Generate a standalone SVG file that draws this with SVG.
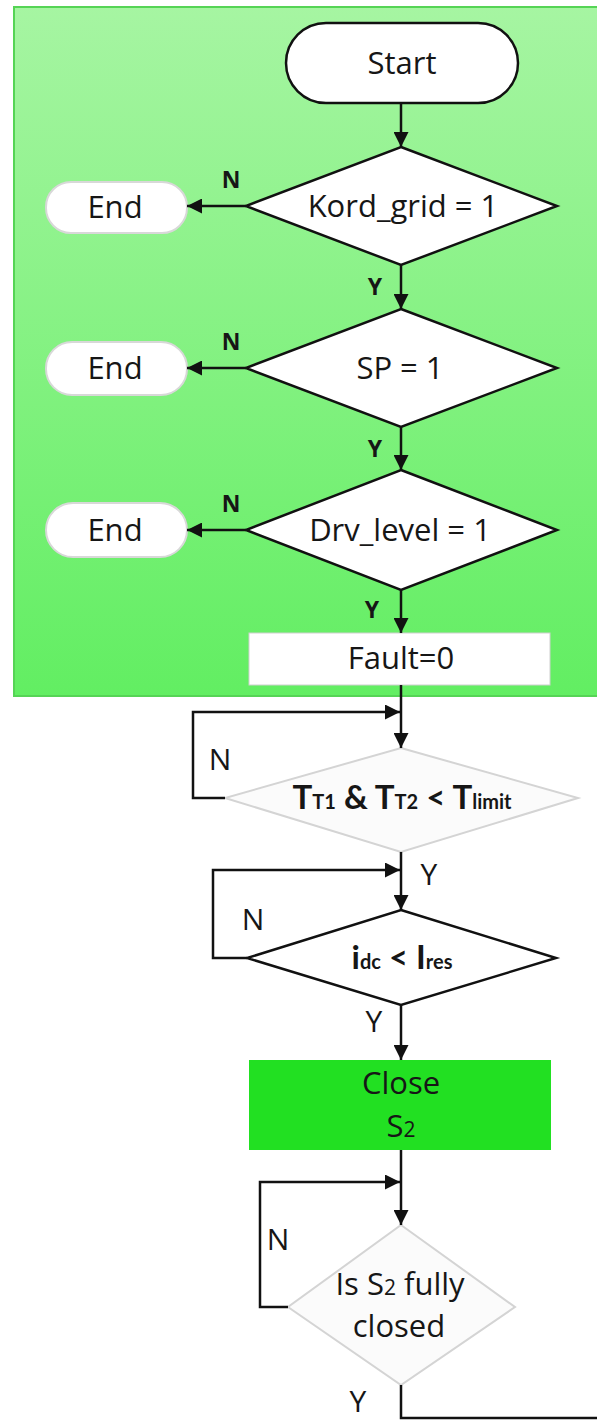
<svg xmlns="http://www.w3.org/2000/svg" width="597" height="1420" viewBox="0 0 597 1420">
<defs>
<linearGradient id="panelGrad" x1="0" y1="0" x2="0" y2="1">
<stop offset="0" stop-color="#a6f5a2"/>
<stop offset="1" stop-color="#62ee62"/>
</linearGradient>
<marker id="arr" viewBox="0 0 14 14" refX="14" refY="7" markerWidth="15" markerHeight="15" markerUnits="userSpaceOnUse" orient="auto">
<path d="M0,0 L14,7 L0,14 Z" fill="#111"/>
</marker>
</defs>
<style>
text{font-family:"Open Sans","Liberation Sans",sans-serif;fill:#161616;text-anchor:middle}
.lbl{font-size:31px;font-weight:500}
.yn{font-size:23px;font-weight:bold}
.yn2{font-size:30px;font-weight:500}
.gill{font-family:Lato,"Open Sans",sans-serif;font-size:33px;font-weight:bold}
.sub{font-size:20px}
.sub2{font-size:21px}
.dk{fill:#fff;stroke:#111;stroke-width:2.5}
.lt{fill:#fbfbfb;stroke:#d4d4d4;stroke-width:2}
.end{fill:#fff;stroke:#d8d8d8;stroke-width:2}
.conn path,.conn line{fill:none;stroke:#111;stroke-width:2.5}
</style>
<rect id="panel" x="14" y="7" width="590" height="689" fill="url(#panelGrad)" stroke="#55d455" stroke-width="2"/>
<g id="start"><rect class="dk" x="286" y="23" width="232" height="80" rx="40"/><text class="lbl" x="402" y="74">Start</text></g>
<g id="d1"><polygon class="dk" points="401,147 557,206 401,265 246,206"/><text class="lbl" x="403" y="217">Kord_grid = 1</text></g>
<g id="end1"><rect class="end" x="46" y="182" width="141" height="51" rx="25"/><text class="lbl" x="115" y="218">End</text></g>
<g id="d2"><polygon class="dk" points="401,309 557,368 401,427 246,368"/><text class="lbl" x="400" y="379">SP = 1</text></g>
<g id="end2"><rect class="end" x="46" y="342" width="141" height="53" rx="26"/><text class="lbl" x="115" y="379">End</text></g>
<g id="d3"><polygon class="dk" points="401,470 557,530 401,590 246,530"/><text class="lbl" x="400" y="541">Drv_level = 1</text></g>
<g id="end3"><rect class="end" x="46" y="503" width="141" height="54" rx="27"/><text class="lbl" x="115" y="541">End</text></g>
<g id="fault"><rect x="249" y="633" width="301" height="52" fill="#fff" stroke="#cfcfcf" stroke-width="1"/><text class="lbl" x="401" y="669">Fault=0</text></g>
<g id="d4"><polygon class="lt" points="401,748 578,798 401,852 225,798"/><text class="gill" x="402" y="809">T<tspan class="sub">T1</tspan> &amp; T<tspan class="sub">T2</tspan> &lt; T<tspan class="sub">limit</tspan></text></g>
<g id="d5"><polygon class="dk" points="401,910 556,958 401,1005 247,958"/><text class="gill" x="402" y="969">i<tspan class="sub">dc</tspan> &lt; I<tspan class="sub">res</tspan></text></g>
<g id="close"><rect x="249" y="1060" width="302" height="90" fill="#22e022"/><text class="lbl" x="401" y="1094">Close</text><text class="lbl" x="401" y="1137">S<tspan class="sub2">2</tspan></text></g>
<g id="d6"><polygon class="lt" points="401,1225 515,1307 401,1385 288,1307"/><text class="lbl" x="400" y="1295">Is S<tspan class="sub2">2</tspan> fully</text><text class="lbl" x="399" y="1337">closed</text></g>
<g id="conn" class="conn">
<line x1="401" y1="103" x2="401" y2="147" marker-end="url(#arr)"/>
<line x1="246" y1="206" x2="187" y2="206" marker-end="url(#arr)"/>
<line x1="401" y1="265" x2="401" y2="309" marker-end="url(#arr)"/>
<line x1="246" y1="368" x2="187" y2="368" marker-end="url(#arr)"/>
<line x1="401" y1="427" x2="401" y2="470" marker-end="url(#arr)"/>
<line x1="246" y1="530" x2="187" y2="530" marker-end="url(#arr)"/>
<line x1="401" y1="590" x2="401" y2="633" marker-end="url(#arr)"/>
<line x1="401" y1="685" x2="401" y2="748" marker-end="url(#arr)"/>
<path d="M225,798 H193 V712 H400" marker-end="url(#arr)"/>
<line x1="401" y1="852" x2="401" y2="910" marker-end="url(#arr)"/>
<path d="M247,958 H213 V870 H400" marker-end="url(#arr)"/>
<line x1="401" y1="1005" x2="401" y2="1060" marker-end="url(#arr)"/>
<line x1="401" y1="1150" x2="401" y2="1225" marker-end="url(#arr)"/>
<path d="M288,1307 H260 V1182 H400" marker-end="url(#arr)"/>
<path d="M401,1385 V1418 H600"/>
<text class="yn" x="231" y="188">N</text>
<text class="yn" x="375" y="295">Y</text>
<text class="yn" x="231" y="350">N</text>
<text class="yn" x="375" y="457">Y</text>
<text class="yn" x="231" y="512">N</text>
<text class="yn" x="372" y="618">Y</text>
<text class="yn2" x="220" y="770">N</text>
<text class="yn2" x="429" y="885">Y</text>
<text class="yn2" x="253" y="930">N</text>
<text class="yn2" x="374" y="1032">Y</text>
<text class="yn2" x="278" y="1250">N</text>
<text class="yn2" x="358" y="1412">Y</text>
</g>
</svg>
